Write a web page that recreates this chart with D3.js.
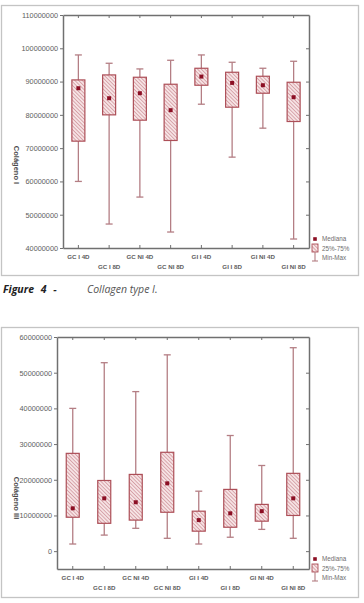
<!DOCTYPE html>
<html>
<head>
<meta charset="utf-8">
<script src="https://cdn.jsdelivr.net/npm/d3@7"></script>
<style>
  body { margin: 0; background: #fff; }
  svg { display: block; }
  .tick text { font-family: "Liberation Sans", Arial, sans-serif; fill: #5e5e5e; }
</style>
</head>
<body>
<div id="chart"></div>
<script>
// categories shared by both panels
const categories = ["GC I 4D", "GC I 8D", "GC NI 4D", "GC NI 8D", "GI I 4D", "GI I 8D", "GI NI 4D", "GI NI 8D"];

// Collagen type I
const col1Min    = [60000000, 47200000, 55300000, 44800000, 83200000, 67300000, 76000000, 42700000];
const col1Q1     = [72100000, 80000000, 78400000, 72300000, 88900000, 82300000, 86500000, 78000000];
const col1Median = [88000000, 85000000, 86500000, 81400000, 91500000, 89600000, 88900000, 85300000];
const col1Q3     = [90500000, 92000000, 91300000, 89200000, 94000000, 92800000, 91600000, 89800000];
const col1Max    = [98000000, 95500000, 93800000, 96400000, 98000000, 95800000, 94000000, 96100000];
const col1Ticks  = [40000000, 50000000, 60000000, 70000000, 80000000, 90000000, 100000000, 110000000];

// Collagen type III
const col3Min    = [2000000, 4500000, 6400000, 3600000, 2000000, 3900000, 6100000, 3600000];
const col3Q1     = [9500000, 7800000, 8700000, 10900000, 5600000, 6700000, 8400000, 10000000];
const col3Median = [12000000, 14800000, 13700000, 19000000, 8700000, 10600000, 11200000, 14800000];
const col3Q3     = [27400000, 19800000, 21500000, 27700000, 11200000, 17300000, 13100000, 21800000];
const col3Max    = [40000000, 52800000, 44700000, 55000000, 16800000, 32400000, 24000000, 57000000];
const col3Ticks  = [0, 10000000, 20000000, 30000000, 40000000, 50000000, 60000000];

const legendLabels = ["Mediana", "25%-75%", "Min-Max"];

const W = 364, H = 603;
const boxStroke = "#ad4f58", whiskerColor = "#b47e84", medianColor = "#8c0f24";
const fontFam = '"Liberation Sans", Arial, sans-serif';

const svg = d3.select("#chart").append("svg")
  .attr("width", W)
  .attr("height", H);

// diagonal hatch for the boxes
const defs = svg.append("defs");
const pat = defs.append("pattern")
  .attr("id", "hatch")
  .attr("patternUnits", "userSpaceOnUse")
  .attr("width", 2.6)
  .attr("height", 2.6)
  .attr("patternTransform", "rotate(-45)");
pat.append("rect").attr("width", 2.6).attr("height", 2.6).attr("fill", "#f6e3e4");
pat.append("line").attr("x1", 0).attr("y1", 0).attr("x2", 0).attr("y2", 2.6)
  .attr("stroke", "#c7808a").attr("stroke-width", 1.2);

function makePanel(opts) {
  const g = svg.append("g");

  // outer light frame
  g.append("rect")
    .attr("x", opts.frame.x + 0.5).attr("y", opts.frame.y + 0.5)
    .attr("width", opts.frame.w).attr("height", opts.frame.h)
    .attr("fill", "none").attr("stroke", "#c4c4c4").attr("stroke-width", 1.3);

  const x = d3.scaleBand().domain(categories).range([opts.left, opts.right]);
  const y = d3.scaleLinear().domain(opts.domain).range([opts.bottom, opts.top]);

  const rows = categories.map((c, i) => ({
    cat: c, min: opts.min[i], q1: opts.q1[i], med: opts.median[i], q3: opts.q3[i], max: opts.max[i]
  }));

  // axes
  const axisStyle = sel => {
    sel.selectAll("path.domain").attr("stroke", "#707070").attr("stroke-width", 1.5);
    sel.selectAll(".tick line").attr("stroke", "#707070");
  };

  g.append("g")
    .attr("transform", "translate(" + opts.left + ",0)")
    .call(d3.axisLeft(y).tickValues(opts.ticks).tickSize(3).tickSizeOuter(0).tickPadding(2)
      .tickFormat(d3.format("d")))
    .call(axisStyle)
    .selectAll("text").attr("font-size", 7.3);

  g.append("g")
    .attr("transform", "translate(" + opts.right + ",0)")
    .call(d3.axisRight(y).tickValues(opts.ticks).tickSize(-3).tickSizeOuter(0).tickFormat(""))
    .call(axisStyle);

  g.append("g")
    .attr("transform", "translate(0," + opts.top + ")")
    .call(d3.axisTop(x).tickSize(-3).tickSizeOuter(0).tickFormat(""))
    .call(axisStyle);

  const xAxis = g.append("g")
    .attr("transform", "translate(0," + opts.bottom + ")")
    .call(d3.axisBottom(x).tickSize(-3).tickSizeOuter(0).tickFormat(""))
    .call(axisStyle);

  // staggered bold category labels
  xAxis.selectAll(".tick").append("text")
    .attr("y", (d, i) => i % 2 === 0 ? 11 : 21)
    .attr("text-anchor", "middle")
    .attr("font-size", 6.2)
    .attr("font-weight", "bold")
    .attr("fill", "#4a4a4a")
    .text(d => d);

  // y title
  g.append("text")
    .attr("transform", "translate(" + opts.titleX + "," + opts.titleY + ") rotate(90)")
    .attr("text-anchor", "middle")
    .attr("font-family", fontFam)
    .attr("font-size", 7.5)
    .attr("font-weight", "bold")
    .attr("fill", "#4a4a4a")
    .text(opts.title);

  const bw = 13, cap = 7;
  const box = g.selectAll("g.box").data(rows).enter().append("g")
    .attr("class", "box")
    .attr("transform", d => "translate(" + (x(d.cat) + x.bandwidth() / 2) + ",0)");

  box.append("line")
    .attr("y1", d => y(d.max)).attr("y2", d => y(d.min))
    .attr("stroke", whiskerColor).attr("stroke-width", 1.3);
  box.append("line")
    .attr("x1", -cap / 2).attr("x2", cap / 2)
    .attr("y1", d => y(d.max)).attr("y2", d => y(d.max))
    .attr("stroke", whiskerColor).attr("stroke-width", 1.3);
  box.append("line")
    .attr("x1", -cap / 2).attr("x2", cap / 2)
    .attr("y1", d => y(d.min)).attr("y2", d => y(d.min))
    .attr("stroke", whiskerColor).attr("stroke-width", 1.3);
  box.append("rect")
    .attr("x", -bw / 2).attr("width", bw)
    .attr("y", d => y(d.q3)).attr("height", d => y(d.q1) - y(d.q3))
    .attr("fill", "url(#hatch)").attr("stroke", boxStroke).attr("stroke-width", 1.2);
  box.append("rect")
    .attr("x", -2).attr("width", 4)
    .attr("y", d => y(d.med) - 2).attr("height", 4)
    .attr("fill", medianColor);

  // legend
  const lg = g.append("g").attr("transform", "translate(" + opts.legendX + "," + opts.legendY + ")");
  lg.append("rect").attr("x", -1.8).attr("y", -1.8).attr("width", 3.6).attr("height", 3.6).attr("fill", medianColor);
  lg.append("rect").attr("x", -3).attr("y", 5).attr("width", 6).attr("height", 8)
    .attr("fill", "url(#hatch)").attr("stroke", boxStroke).attr("stroke-width", 0.9);
  lg.append("line").attr("x1", 0).attr("x2", 0).attr("y1", 13).attr("y2", 22)
    .attr("stroke", whiskerColor).attr("stroke-width", 1.1);
  lg.append("line").attr("x1", -3).attr("x2", 3).attr("y1", 22).attr("y2", 22)
    .attr("stroke", whiskerColor).attr("stroke-width", 1.1);
  lg.selectAll("text.leg").data(legendLabels).enter().append("text")
    .attr("class", "leg")
    .attr("x", 7)
    .attr("y", (d, i) => i * 9.5 + 2.3)
    .attr("font-family", fontFam)
    .attr("font-size", 6.3)
    .attr("fill", "#6e6e6e")
    .text(d => d);
}

makePanel({
  frame: { x: 1, y: 5, w: 357, h: 270 },
  left: 63, right: 309, top: 15, bottom: 248,
  domain: [40000000, 110000000], ticks: col1Ticks,
  min: col1Min, q1: col1Q1, median: col1Median, q3: col1Q3, max: col1Max,
  title: "Colágeno I", titleX: 14, titleY: 165,
  legendX: 315, legendY: 239
});

makePanel({
  frame: { x: 1, y: 327, w: 357, h: 270 },
  left: 57, right: 309, top: 337, bottom: 569,
  domain: [-5000000, 60000000], ticks: col3Ticks,
  min: col3Min, q1: col3Q1, median: col3Median, q3: col3Q3, max: col3Max,
  title: "Colágeno III", titleX: 14, titleY: 498,
  legendX: 315, legendY: 559
});

// caption under the first panel
const cap = svg.append("text")
  .attr("x", 3).attr("y", 293)
  .attr("font-family", '"Open Sans", "Noto Sans", sans-serif')
  .attr("font-size", 10.5)
  .attr("font-style", "italic");
cap.append("tspan").attr("font-weight", "bold").attr("fill", "#222").attr("word-spacing", 4).text("Figure 4 -");
cap.append("tspan").attr("x", 87).attr("fill", "#555").text("Collagen type I.");
</script>
</body>
</html>
